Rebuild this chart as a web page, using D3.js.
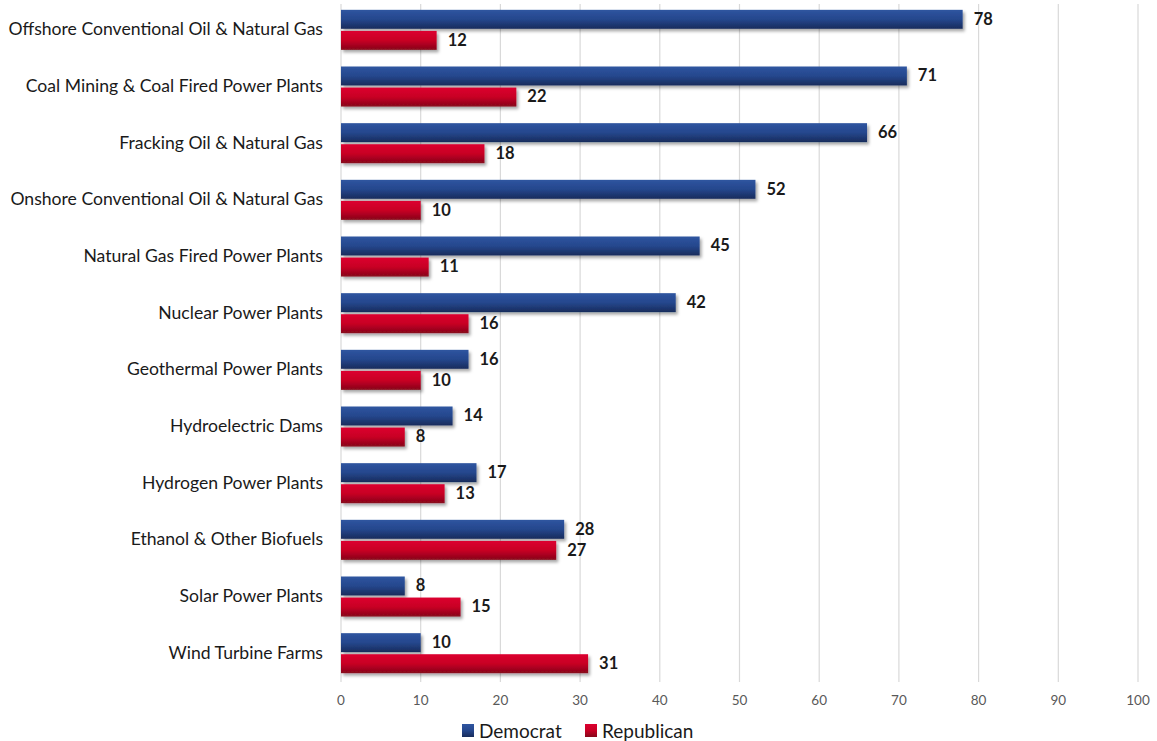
<!DOCTYPE html>
<html>
<head>
<meta charset="utf-8">
<script src="https://cdn.jsdelivr.net/npm/d3@7"></script>
<style>
  html, body { margin: 0; padding: 0; background: #fff; }
  svg { display: block; }
</style>
</head>
<body>
<svg id="chart" width="1157" height="741"></svg>
<script>
const categories = [
  "Offshore Conventional Oil & Natural Gas",
  "Coal Mining & Coal Fired Power Plants",
  "Fracking Oil & Natural Gas",
  "Onshore Conventional Oil & Natural Gas",
  "Natural Gas Fired Power Plants",
  "Nuclear Power Plants",
  "Geothermal Power Plants",
  "Hydroelectric Dams",
  "Hydrogen Power Plants",
  "Ethanol & Other Biofuels",
  "Solar Power Plants",
  "Wind Turbine Farms"
];
const democrat =   [78, 71, 66, 52, 45, 42, 16, 14, 17, 28, 8, 10];
const republican = [12, 22, 18, 10, 11, 16, 10, 8, 13, 27, 15, 31];
const seriesNames = ["Democrat", "Republican"];
const xTicks = [0, 10, 20, 30, 40, 50, 60, 70, 80, 90, 100];

const svg = d3.select("#chart");
const margin = { left: 341, right: 19, top: 2, bottom: 59 };
const W = 1157, H = 741;

const x = d3.scaleLinear().domain([0, 100]).range([margin.left, W - margin.right]);
const y = d3.scaleBand().domain(categories).range([margin.top, H - margin.bottom]);
const inner = d3.scaleBand().domain(seriesNames).range([0, 40]).paddingInner(0.1);

const defs = svg.append("defs");
function grad(id, stops) {
  const g = defs.append("linearGradient").attr("id", id)
    .attr("x1", 0).attr("y1", 0).attr("x2", 0).attr("y2", 1);
  stops.forEach(([o, c]) => g.append("stop").attr("offset", o).attr("stop-color", c));
}
grad("gDem", [[0, "#2f55a0"], [0.5, "#25478d"], [1, "#182c5c"]]);
grad("gRep", [[0, "#dc0030"], [0.5, "#c80024"], [1, "#86081b"]]);
const f = defs.append("filter").attr("id", "shadow")
  .attr("x", "-5%").attr("y", "-30%").attr("width", "115%").attr("height", "180%");
f.append("feDropShadow").attr("dx", 2).attr("dy", 2.5).attr("stdDeviation", 1.6)
  .attr("flood-color", "#000").attr("flood-opacity", 0.35);

// vertical gridlines
svg.append("g").selectAll("line").data(xTicks).join("line")
  .attr("x1", d => x(d)).attr("x2", d => x(d))
  .attr("y1", margin.top + 2).attr("y2", H - margin.bottom)
  .attr("stroke", "#d9d9d9").attr("stroke-width", 1.2);

// x tick labels
svg.append("g").selectAll("text").data(xTicks).join("text")
  .attr("x", d => x(d)).attr("y", 705)
  .attr("text-anchor", "middle")
  .attr("font-family", "Lato, 'Open Sans', sans-serif")
  .attr("font-size", 13.5).attr("fill", "#595959")
  .text(d => d);

// category labels
svg.append("g").selectAll("text").data(categories).join("text")
  .attr("x", 323).attr("y", d => y(d) + y.bandwidth() / 2 - 1)
  .attr("dy", "0.35em")
  .attr("text-anchor", "end")
  .attr("font-family", "Lato, 'Open Sans', sans-serif")
  .attr("font-size", 17.6).attr("fill", "#1a1a1a")
  .text(d => d);

const rows = categories.map((c, i) => ({ c, vals: [democrat[i], republican[i]] }));
const groups = svg.append("g").selectAll("g").data(rows).join("g")
  .attr("transform", d => `translate(0,${y(d.c) + y.bandwidth() / 2 - 20.5})`);

const fills = ["url(#gDem)", "url(#gRep)"];
groups.each(function (d) {
  const g = d3.select(this);
  d.vals.forEach((v, j) => {
    const s = seriesNames[j];
    g.append("rect")
      .attr("x", x(0)).attr("y", inner(s))
      .attr("width", x(v) - x(0)).attr("height", inner.bandwidth())
      .attr("fill", fills[j]).attr("filter", "url(#shadow)");
    g.append("text")
      .attr("x", x(v) + 11).attr("y", inner(s) + inner.bandwidth() / 2 - 0.5)
      .attr("dy", "0.35em")
      .attr("font-family", "Lato, 'Open Sans', sans-serif")
      .attr("font-weight", "bold").attr("font-size", 16.5).attr("fill", "#1a1a1a")
      .text(v);
  });
});

// legend
const legend = svg.append("g");
const legendX = [462, 585];
seriesNames.forEach((s, j) => {
  legend.append("rect").attr("x", legendX[j]).attr("y", 724)
    .attr("width", 12).attr("height", 13).attr("fill", fills[j]);
  legend.append("text").attr("x", legendX[j] + 17).attr("y", 731)
    .attr("dy", "0.35em")
    .attr("font-family", "Lato, 'Open Sans', sans-serif")
    .attr("font-size", 19).attr("fill", "#1a1a1a")
    .text(s);
});
</script>
</body>
</html>
